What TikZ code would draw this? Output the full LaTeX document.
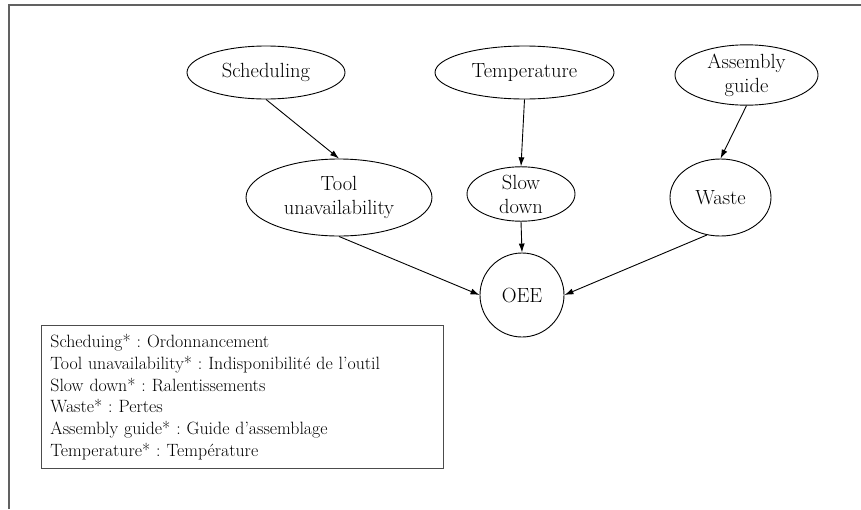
\documentclass[tikz,border=0pt]{standalone}
\usetikzlibrary{shapes.geometric, arrows.meta, positioning}
\frenchspacing

\begin{document}
\begin{tikzpicture}[
  x=1pt, y=-1pt,
  font=\fontsize{20.5}{24}\selectfont,
  cadre/.style={draw=black!62, line width=1.6pt},
  noeud/.style={draw=black, line width=0.9pt, ellipse, inner sep=0pt, align=center},
  cercle/.style={draw=black, line width=0.9pt, circle, inner sep=0pt, minimum size=84},
  fleche/.style={draw=black, line width=0.9pt, -{Latex[length=9pt, width=6pt]}},
  legende/.style={draw=black!70, line width=0.9pt, rectangle, align=left,
    font=\fontsize{17.8}{21.7}\selectfont, inner xsep=9pt, inner ysep=0pt}
]
\useasboundingbox (0,0) rectangle (861,509);

% Cadre
\draw[cadre] (9,509) -- (9,5) -- (861,5);

% Causes
\node[noeud, minimum width=158, minimum height=53] (sched) at (266,72.5) {Scheduling};
\node[noeud, minimum width=179, minimum height=53] (temp) at (524.5,72.5) {Temperature};
\node[noeud, minimum width=143, minimum height=60] (assem) at (746.5,75) {Assembly\\guide};

% Effets
\node[noeud, minimum width=186, minimum height=77] (tool) at (339,197.5) {Tool\\unavailability};
\node[noeud, minimum width=108, minimum height=54] (slow) at (521,194) {Slow\\down};
\node[noeud, minimum width=101, minimum height=77] (waste) at (720.5,197.5) {Waste};

\node[cercle] (oee) at (522,295) {OEE};

% Liens
\draw[fleche] (sched.south) -- (tool.north);
\draw[fleche] (temp.south) -- (slow.north);
\draw[fleche] (assem.south) -- (waste.north);
\draw[fleche] (slow.south) -- (oee.north);
\draw[fleche] (tool.south) -- (oee.west);
\draw[fleche] (waste.250) -- (oee.east);

% Legende
\node[legende, anchor=north west, text width=384pt, minimum height=143] (leg) at (41,325) {%
Scheduing* : Ordonnancement\\
Tool unavailability* : Indisponibilité de l’outil\\
Slow down* : Ralentissements\\
Waste* : Pertes\\
Assembly guide* : Guide d’assemblage\\
Temperature* : Température};

\end{tikzpicture}
\end{document}
